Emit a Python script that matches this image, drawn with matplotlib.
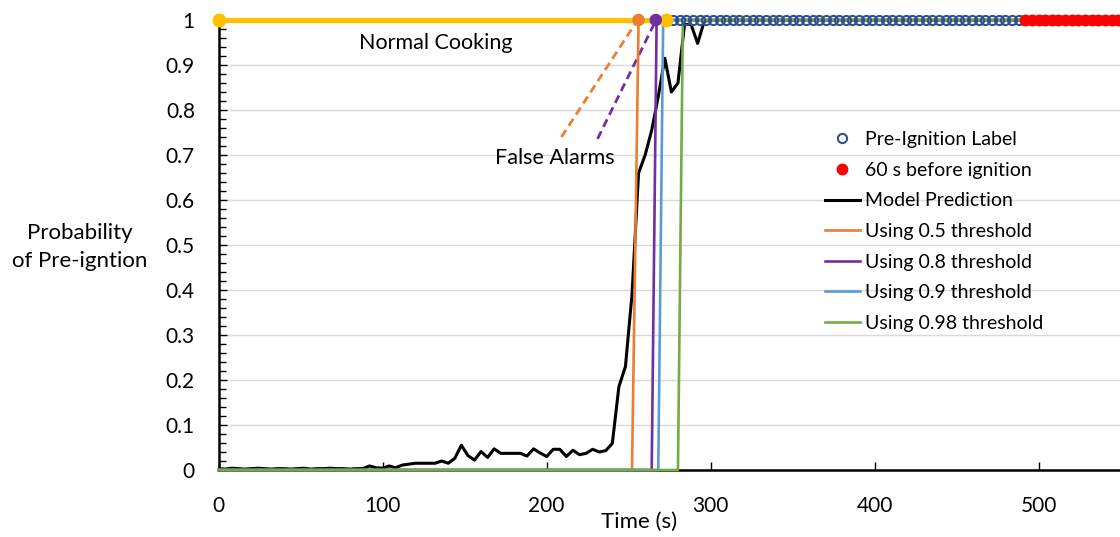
import matplotlib
matplotlib.use("Agg")
import matplotlib.pyplot as plt
import numpy as np

plt.rcParams["font.family"] = ["Lato", "DejaVu Sans"]

# model prediction (time in s, probability)
pred_t = [0, 4, 8, 12, 16, 20, 24, 28, 32, 36, 40, 44, 48, 52, 56, 60, 64, 68, 72, 76, 80, 84,
          88, 92, 96, 100, 104, 108, 112, 116, 120, 124, 128, 132, 136, 140, 144, 148, 152,
          156, 160, 164, 168, 172, 176, 180, 184, 188, 192, 196, 200, 204, 208, 212, 216, 220,
          224, 228, 232, 236, 240, 244, 248, 252, 256, 260, 264, 268, 272, 276, 280, 284, 288,
          292, 296, 300, 550]
pred_p = [0.003, 0.002, 0.004, 0.003, 0.002, 0.003, 0.004, 0.003, 0.002, 0.003, 0.003, 0.002,
          0.003, 0.004, 0.002, 0.003, 0.003, 0.004, 0.003, 0.003, 0.002, 0.003,
          0.003, 0.009, 0.005, 0.004, 0.009, 0.005, 0.011, 0.013, 0.015, 0.015, 0.015, 0.015,
          0.020, 0.015, 0.026, 0.055, 0.032, 0.022, 0.041, 0.028, 0.047, 0.037, 0.037, 0.037,
          0.037, 0.031, 0.047, 0.038, 0.030, 0.046, 0.046, 0.030, 0.044, 0.034, 0.037, 0.046,
          0.040, 0.043, 0.059, 0.185, 0.23, 0.39, 0.66, 0.70, 0.755, 0.83, 0.915, 0.84, 0.86,
          0.99, 0.99, 0.948, 0.997, 1.0, 1.0]

# threshold alarms: (last time at 0, first time at 1)
thresholds = ["0.5", "0.8", "0.9", "0.98"]
switch_off = [252, 264, 268, 280]
switch_on = [256, 267, 271, 283]
thr_colors = ["#ED7D31", "#7030A0", "#5B9BD5", "#70AD47"]

# labels
normal_t = [0, 273]
label_start = 277
ignition = 550
warn_start = 490
sample_step = 4.05

# false alarm dots
false_t = [256, 266.5]
false_colors = ["#ED7D31", "#7030A0"]

fig = plt.figure(figsize=(11.2, 5.37), dpi=100)
ax = fig.add_axes([218.5 / 1120, 67 / 537, (1121 - 218.5) / 1120, 450 / 537])

ax.plot(pred_t, pred_p, color="black", lw=2.2, label="Model Prediction", zorder=3)
for name, t0, t1, c in zip(thresholds, switch_off, switch_on, thr_colors):
    ax.plot([0, t0, t1, ignition], [0, 0, 1, 1], color=c, lw=1.9,
            label=f"Using {name} threshold", zorder=4, clip_on=False)

label_t = np.arange(label_start, ignition + 1, sample_step)
warn_t = label_t[label_t >= warn_start]
ax.plot(label_t, np.ones(len(label_t)), "o", ms=6.6, mfc="none", mec="#2F528F", mew=1.5,
        label="Pre-Ignition Label", zorder=5, clip_on=False)
ax.plot(warn_t, np.ones(len(warn_t)), "o", ms=7.5, color="#FF0000", mec="#FF0000",
        label="60 s before ignition", zorder=6, clip_on=False)

ax.plot(normal_t, [1, 1], color="#FFC000", lw=3.8, marker="o", ms=9, zorder=7, clip_on=False)
ax.scatter(false_t, [1, 1], s=64, c=false_colors, zorder=8, clip_on=False)

ax.plot([209, 254.5], [0.74, 0.995], ls=(0, (3, 1.8)), color="#ED7D31", lw=2, zorder=2)
ax.plot([231, 266], [0.736, 0.995], ls=(0, (3, 1.8)), color="#7030A0", lw=2, zorder=2)

ax.text(132.2, 0.949, "Normal Cooking", ha="center", va="center", fontsize=15.5)
ax.text(204.7, 0.693, "False Alarms", ha="center", va="center", fontsize=15.5)

ax.set_xlim(0, 550)
ax.set_ylim(0, 1)
ax.set_xticks([0, 100, 200, 300, 400, 500])
ax.set_yticks(np.round(np.arange(0, 1.01, 0.1), 1))
ax.set_yticklabels(["0", "0.1", "0.2", "0.3", "0.4", "0.5", "0.6", "0.7", "0.8", "0.9", "1"])
ax.set_yticks(np.arange(0, 1.001, 0.02), minor=True)
ax.tick_params(axis="both", which="major", direction="in", labelsize=15, length=6, width=1)
ax.tick_params(axis="y", which="minor", direction="in", length=5, width=1)
ax.tick_params(axis="x", pad=19)
ax.tick_params(axis="y", pad=17)
ax.grid(axis="y", color="#D9D9D9", lw=1)
ax.set_axisbelow(True)
for s in ["top", "right"]:
    ax.spines[s].set_visible(False)
for s in ["left", "bottom"]:
    ax.spines[s].set_linewidth(1.8)

fig.text(639 / 1120, 1 - 522 / 537, "Time (s)", ha="center", va="center", fontsize=16)
fig.text(80 / 1120, 1 - 247 / 537, "Probability\nof Pre-igntion", ha="center", va="center",
         fontsize=16, linespacing=1.55)

handles, labels = ax.get_legend_handles_labels()
order = ["Pre-Ignition Label", "60 s before ignition", "Model Prediction",
         "Using 0.5 threshold", "Using 0.8 threshold", "Using 0.9 threshold",
         "Using 0.98 threshold"]
hmap = dict(zip(labels, handles))
ax.legend([hmap[k] for k in order], order, loc="upper left", bbox_to_anchor=(0.672, 0.753),
          frameon=False, fontsize=14, handlelength=1.8, handletextpad=0.25,
          labelspacing=0.70, borderpad=0, borderaxespad=0, numpoints=1)

fig.savefig("out.png", dpi=100)
